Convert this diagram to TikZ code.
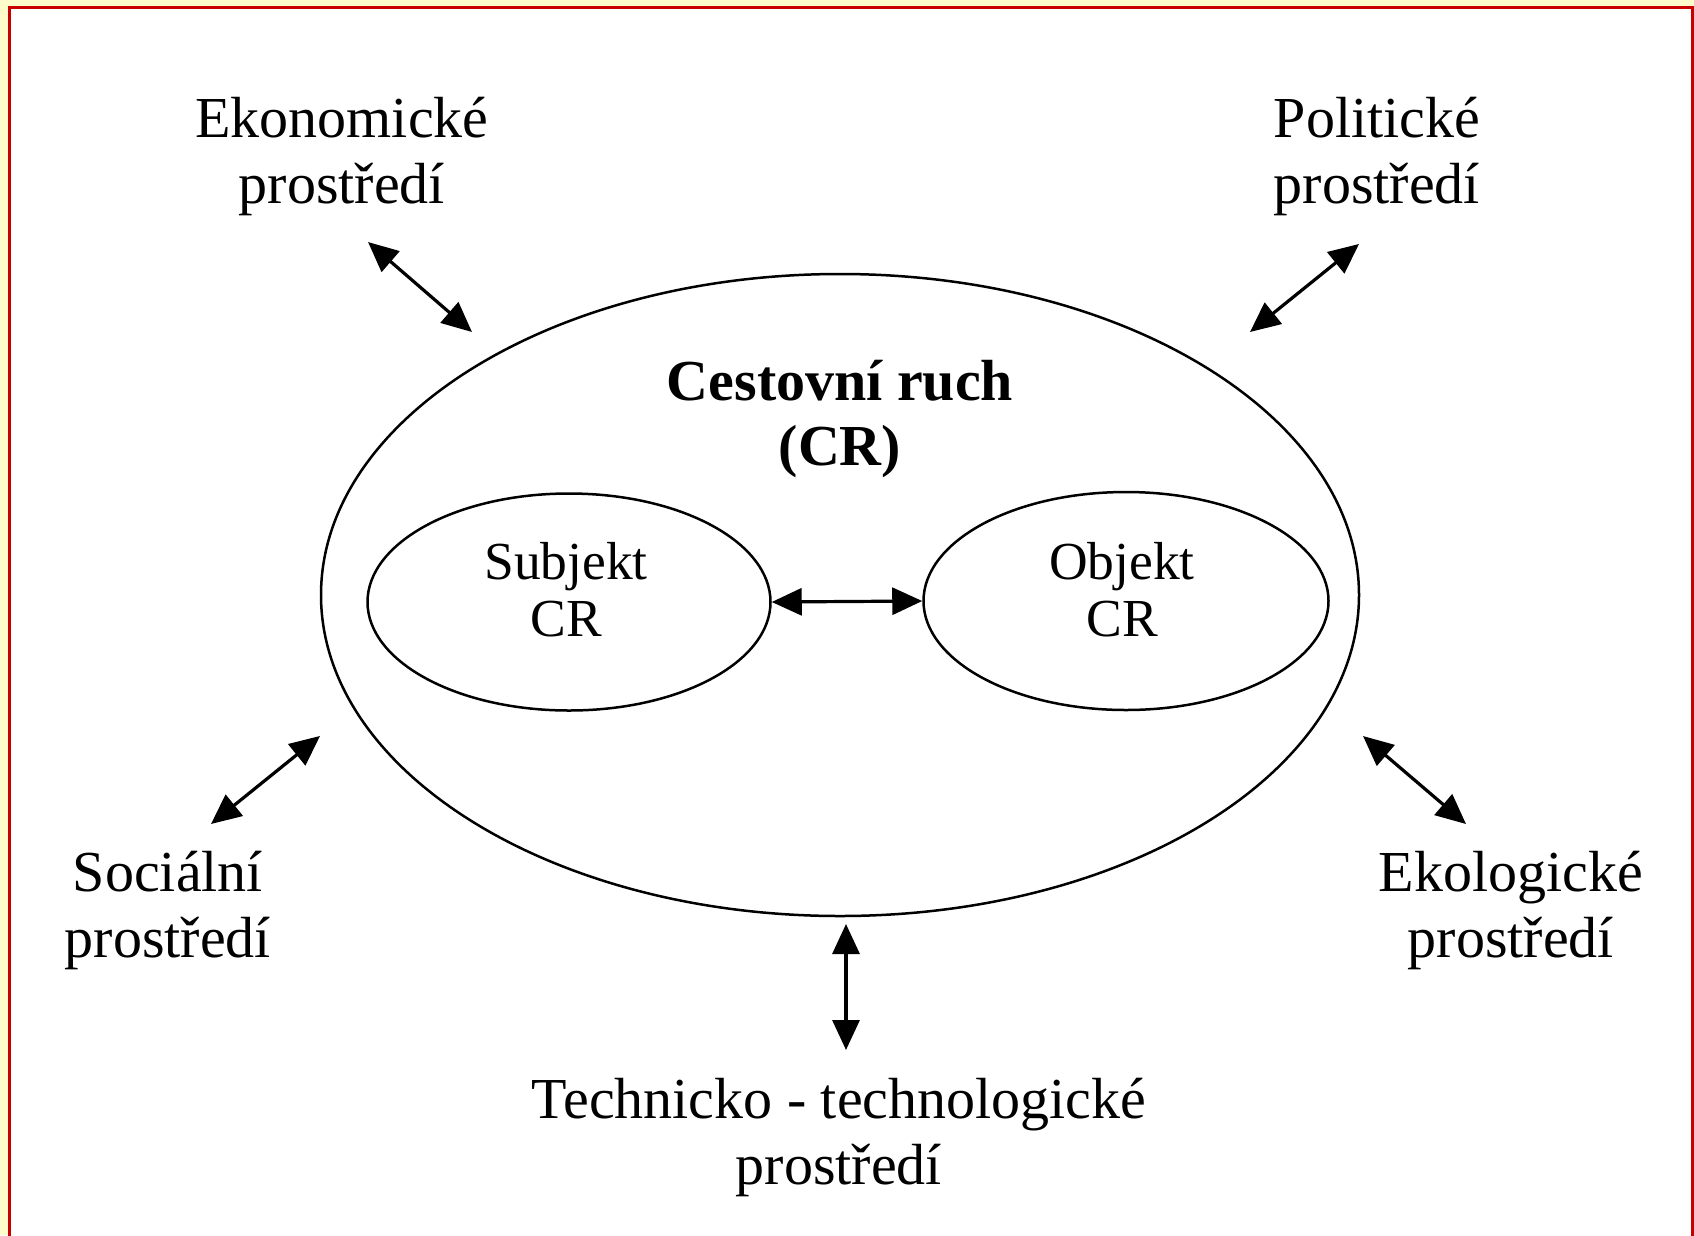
\documentclass[tikz,border=0pt]{standalone}
\usepackage{fontspec}
\setmainfont{Liberation Serif}
\usetikzlibrary{arrows.meta,shapes.geometric}
\definecolor{bgyellow}{HTML}{FFFCCC}
\definecolor{framered}{HTML}{C80000}
\begin{document}
\begin{tikzpicture}[x=1pt,y=-1pt,
  lbl/.style={align=center,inner sep=0pt,anchor=base,font=\fontsize{58}{66}\selectfont},
  inlbl/.style={align=center,inner sep=0pt,anchor=base,font=\fontsize{53.5}{57}\selectfont},
  ell/.style={draw,ellipse,line width=2.5pt,inner sep=0pt},
  dbl/.style={line width=3.2pt,{Triangle[length=30pt,width=27pt]}-{Triangle[length=30pt,width=27pt]}}
]
\useasboundingbox (0,0) rectangle (1694,1235);
\fill[bgyellow] (0,0) rectangle (1694,1235);
\fill[white] (10,8) rectangle (1692,1240);
\draw[framered,line width=3pt] (9.5,1240) -- (9.5,7.5) -- (1692.5,7.5) -- (1692.5,1240);

% ellipses
\node[ell,minimum width=1038pt,minimum height=642pt] (big) at (840,595) {};
\node[ell,minimum width=403pt,minimum height=217pt] (subj) at (569,602) {};
\node[ell,minimum width=405pt,minimum height=218pt] (obj) at (1126,601) {};

% texts (anchor = baseline of the last line)
\node[lbl] (eko) at (342,203) {Ekonomické\\prostředí};
\node[lbl] (pol) at (1377,203) {Politické\\prostředí};
\node[lbl] (soc) at (168,957) {Sociální\\prostředí};
\node[lbl] (ekol) at (1511,957) {Ekologické\\prostředí};
\node[lbl] (tech) at (839,1184) {Technicko - technologické\\prostředí};
\node[lbl,font=\bfseries\fontsize{58}{65}\selectfont] (cr) at (840,465) {Cestovní ruch\\(CR)};
\node[inlbl] (subjt) at (566,636) {Subjekt\\CR};
\node[inlbl] (objt) at (1122,636) {Objekt\\CR};

% arrow end points
\coordinate (ekoA) at (368,242);
\coordinate (ekoB) at (472,332);
\coordinate (polA) at (1359,244);
\coordinate (polB) at (1250,332);
\coordinate (socA) at (320,736);
\coordinate (socB) at (211,824);
\coordinate (ekolA) at (1363,736);
\coordinate (ekolB) at (1466,824);
\coordinate (techA) at (846,924);
\coordinate (techB) at (846,1050);

\draw[dbl] (ekoA) -- (ekoB);
\draw[dbl] (polA) -- (polB);
\draw[dbl] (socA) -- (socB);
\draw[dbl] (ekolA) -- (ekolB);
\draw[dbl] (techA) -- (techB);
\draw[dbl] (subj.east) -- (obj.west);
\end{tikzpicture}
\end{document}
